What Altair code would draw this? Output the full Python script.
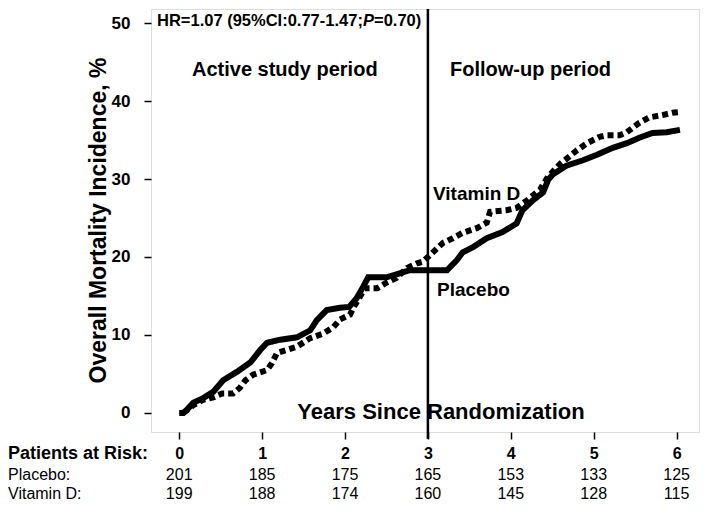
import altair as alt
import pandas as pd

# ---- data ----
placebo_t = [0.00, 0.05, 0.10, 0.17, 0.29, 0.41, 0.53, 0.70, 0.86, 0.98, 1.06, 1.22, 1.42,
             1.58, 1.66, 1.78, 1.94, 2.05, 2.14, 2.22, 2.28, 2.50, 2.66, 2.78, 3.23, 3.35,
             3.42, 3.55, 3.71, 3.90, 4.07, 4.14, 4.27, 4.39, 4.45, 4.51, 4.67, 4.87, 5.04,
             5.23, 5.40, 5.55, 5.71, 5.88, 6.04]
placebo_v = [0.0, 0.0, 0.5, 1.3, 1.9, 2.7, 4.2, 5.3, 6.5, 8.1, 9.0, 9.4, 9.7,
             10.6, 11.9, 13.2, 13.5, 13.6, 14.7, 16.2, 17.4, 17.4, 17.9, 18.3, 18.3, 19.6,
             20.6, 21.3, 22.4, 23.2, 24.3, 26.0, 27.3, 28.3, 29.9, 30.6, 31.7, 32.4, 33.1,
             34.0, 34.6, 35.3, 35.9, 36.0, 36.3]

vitd_t = [0.05, 0.17, 0.29, 0.41, 0.52, 0.65, 0.73, 0.80, 0.89, 1.06, 1.12, 1.18, 1.30,
          1.42, 1.58, 1.74, 1.86, 1.94, 2.06, 2.10, 2.18, 2.24, 2.39, 2.50, 2.62, 2.75,
          2.87, 2.94, 3.06, 3.18, 3.30, 3.42, 3.59, 3.71, 3.75, 3.95, 4.07, 4.20, 4.35,
          4.45, 4.60, 4.72, 4.80, 4.92, 5.07, 5.16, 5.31, 5.40, 5.55, 5.67, 5.83, 5.95, 6.04]
vitd_v = [0.0, 1.0, 1.7, 2.0, 2.5, 2.5, 3.2, 4.2, 4.9, 5.5, 6.4, 7.7, 8.1,
          8.5, 9.6, 10.2, 11.0, 12.0, 12.6, 13.5, 14.9, 16.0, 16.0, 16.7, 17.3, 18.6,
          19.2, 19.4, 20.6, 21.8, 22.4, 23.1, 23.7, 24.4, 25.8, 26.0, 26.3, 27.3, 28.6,
          30.3, 32.0, 33.0, 33.7, 34.6, 35.4, 35.6, 35.6, 36.0, 37.2, 37.9, 38.2, 38.5, 38.6]

risk_years = [0, 1, 2, 3, 4, 5, 6]
risk_placebo = [201, 185, 175, 165, 153, 133, 125]
risk_vitd = [199, 188, 174, 160, 145, 128, 115]

y_ticks = [0, 10, 20, 30, 40, 50]

FONT = "Liberation Sans"

df_p = pd.DataFrame({"t": placebo_t, "v": placebo_v})
df_v = pd.DataFrame({"t": vitd_t, "v": vitd_v})
df_risk = pd.DataFrame({"t": risk_years, "p": risk_placebo, "d": risk_vitd})
one = pd.DataFrame({"a": [0]})

xscale = alt.Scale(domain=[-0.34, 6.27], nice=False, zero=False)
yscale = alt.Scale(domain=[-2.44, 51.8], nice=False, zero=False)

x_axis = alt.Axis(values=risk_years, title=None, grid=False, domain=False,
                  tickSize=7, tickWidth=1.5, tickColor="black",
                  labelFont=FONT, labelFontSize=16, labelFontWeight="bold",
                  labelColor="black", labelPadding=6, format="d")
y_axis = alt.Axis(values=y_ticks, title="Overall Mortality Incidence, %", grid=False,
                  domain=False, tickSize=7, tickWidth=1.5, tickColor="black",
                  labelFont=FONT, labelFontSize=17, labelFontWeight="bold",
                  labelColor="black", labelPadding=14,
                  titleFont=FONT, titleFontSize=23, titleFontWeight="bold",
                  titleColor="black", titleX=-46, titleY=211, titleAngle=270,
                  titleAlign="center", titleBaseline="alphabetic")

placebo = alt.Chart(df_p).mark_line(color="black", strokeWidth=6, strokeCap="butt").encode(
    x=alt.X("t:Q", scale=xscale, axis=x_axis),
    y=alt.Y("v:Q", scale=yscale, axis=y_axis),
)
vitd = alt.Chart(df_v).mark_line(color="black", strokeWidth=6, strokeDash=[6, 4],
                                 strokeCap="butt").encode(
    x=alt.X("t:Q", scale=xscale),
    y=alt.Y("v:Q", scale=yscale),
)
rule = alt.Chart(pd.DataFrame({"t": [3]})).mark_rule(color="black", strokeWidth=2.5).encode(
    x=alt.X("t:Q", scale=xscale),
    y=alt.value(0), y2=alt.value(430),
)


def label(txt, x, y, size, weight="bold", align="left", style="normal"):
    return alt.Chart(one).mark_text(
        text=txt, font=FONT, fontSize=size, fontWeight=weight, fontStyle=style,
        align=align, baseline="middle", color="black"
    ).encode(x=alt.value(x), y=alt.value(y))


texts = [
    label("HR=1.07 (95%CI:0.77-1.47;", 6, 12, 16.5),
    label("P", 212, 12, 16.5, style="italic"),
    label("=0.70)", 223, 12, 16.5),
    label("Active study period", 41, 61, 20),
    label("Follow-up period", 299, 61, 20),
    label("Vitamin D", 282, 185, 19),
    label("Placebo", 286, 281, 19),
    label("Years Since Randomization", 290, 403, 22, align="center"),
    label("Patients at Risk:", -143, 445, 18),
    label("Placebo:", -143, 466, 16, weight="normal"),
    label("Vitamin D:", -143, 485, 16, weight="normal"),
]

row_p = alt.Chart(df_risk).mark_text(font=FONT, fontSize=16, align="center",
                                     baseline="middle", color="black").encode(
    x=alt.X("t:Q", scale=xscale), y=alt.value(466), text="p:Q")
row_d = alt.Chart(df_risk).mark_text(font=FONT, fontSize=16, align="center",
                                     baseline="middle", color="black").encode(
    x=alt.X("t:Q", scale=xscale), y=alt.value(485), text="d:Q")

chart = alt.layer(placebo, vitd, rule, row_p, row_d, *texts).properties(
    width=548, height=423,
    autosize=alt.AutoSizeParams(type="none"),
    padding={"left": 143, "top": 1, "right": 2, "bottom": 71},
).configure_view(stroke="black", strokeWidth=2).configure(background="white")

chart.save("out.html", embed_options={"renderer": "svg", "actions": False})
